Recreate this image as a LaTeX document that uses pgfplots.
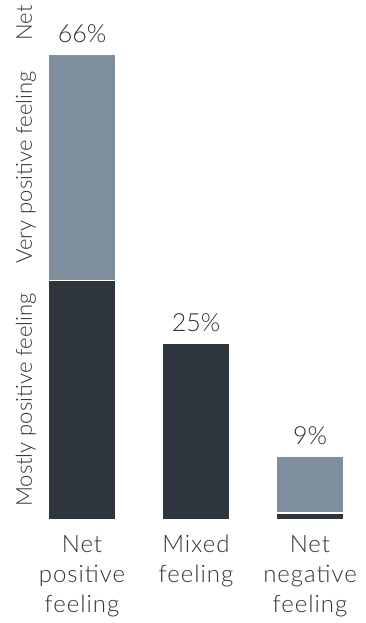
\documentclass[border=0pt]{standalone}
\usepackage{pgfplots}
\pgfplotsset{compat=1.18}
\usepackage{fontspec}
\setmainfont{Lato Light}
\newfontfamily\catfont{Lato Light}[LetterSpace=4]
\definecolor{darkbar}{HTML}{2E353D}
\definecolor{lightbar}{HTML}{7F8F9D}
\definecolor{txt}{HTML}{333333}
\begin{document}
\begin{tikzpicture}
\path (0pt,0pt) rectangle (365pt,623pt);
\begin{axis}[
  overlay,
  at={(25pt,103pt)}, anchor=south west,
  scale only axis, width=335pt, height=500pt,
  xmin=-0.5, xmax=2.4386, ymin=0, ymax=70.92,
  clip=false,
  axis line style={draw=none},
  major tick length=0pt,
  ytick=\empty,
  xtick={0,1,2},
  xticklabels={Net\\positive\\feeling, Mixed\\feeling, Net\\negative\\feeling},
  xticklabel style={align=center, font=\catfont\fontsize{24}{30}\selectfont,
    text=txt, inner sep=0pt, anchor=north, yshift=-15pt},
  ybar stacked, bar width=67.5pt,
]
% Mostly positive (bottom segment)
\addplot[fill=darkbar, draw=white, line width=1.5pt] coordinates {(0,34) (1,25) (2,1)};
% Very positive (top segment)
\addplot[fill=lightbar, draw=white, line width=1.5pt] coordinates {(0,32) (1,0) (2,8)};
% totals above the bars
\node[font=\fontsize{25}{30}\selectfont, text=txt, anchor=base, yshift=12pt] at (axis cs:0,66) {66\%};
\node[font=\fontsize{25}{30}\selectfont, text=txt, anchor=base, yshift=12pt] at (axis cs:1,25) {25\%};
\node[font=\fontsize{25}{30}\selectfont, text=txt, anchor=base, yshift=12pt] at (axis cs:2,9) {9\%};
% segment names beside the first bar
\node[rotate=90, anchor=base, font=\fontsize{22}{28}\selectfont, text=txt] at (axis cs:-0.4386,17) {Mostly positive feeling};
\node[rotate=90, anchor=base, font=\fontsize{22}{28}\selectfont, text=txt] at (axis cs:-0.4386,50) {Very positive feeling};
\node[rotate=90, anchor=base, font=\fontsize{22}{28}\selectfont, text=txt] at (axis cs:-0.4386,70.5) {Net};
\end{axis}
\end{tikzpicture}
\end{document}
